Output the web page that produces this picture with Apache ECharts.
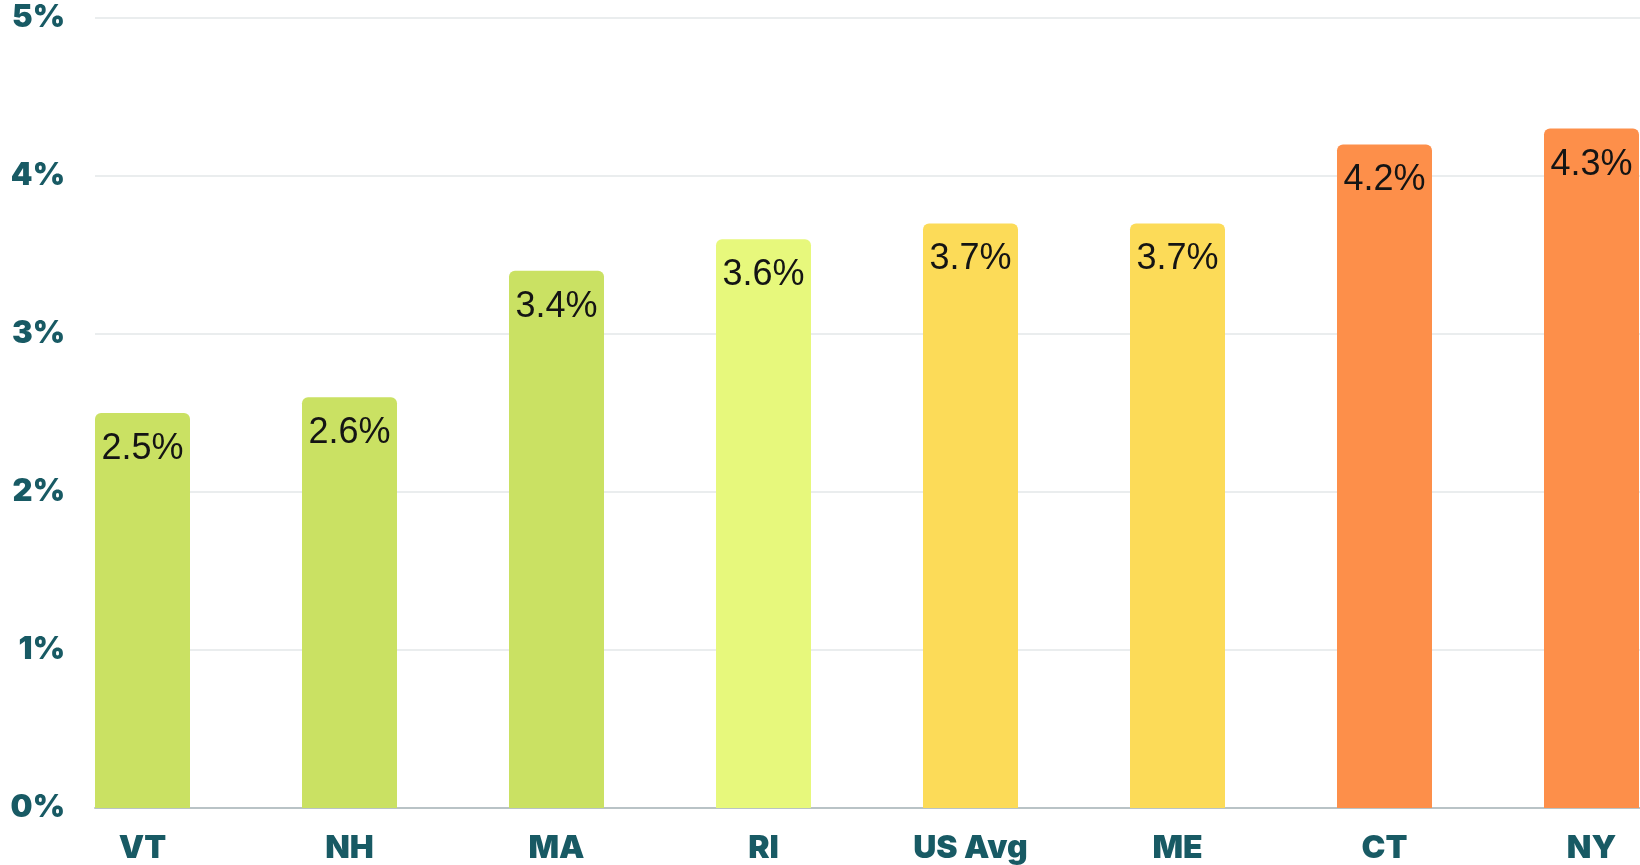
<!DOCTYPE html>
<html>
<head>
<meta charset="utf-8">
<script src="https://cdn.jsdelivr.net/npm/echarts@6/dist/echarts.min.js"></script>
<style>
  html, body { margin: 0; padding: 0; background: #fff; }
  #chart { width: 1640px; height: 865px; }
</style>
</head>
<body>
<div id="chart"></div>
<script>
const categories = ['VT', 'NH', 'MA', 'RI', 'US Avg', 'ME', 'CT', 'NY']
const values = [2.5, 2.6, 3.4, 3.6, 3.7, 3.7, 4.2, 4.3]
const barColors = ['#cae163', '#cae163', '#cae163', '#e7f87c', '#fcdb58', '#fcdb58', '#fd8f4a', '#fd8f4a']
const yTicks = [0, 1, 2, 3, 4, 5]

const teal = '#185a64'

const chart = echarts.init(document.getElementById('chart'))

const option = {
  animation: false,
  backgroundColor: '#fff',
  grid: [
    // frame for gridlines and y labels
    { left: 95, right: 0, top: 18, bottom: 57, outerBoundsMode: 'none' },
    // bars: 207px bands, first bar starts at the axis start, last one runs off the edge
    { left: 39, width: 1656, top: 18, bottom: 57, outerBoundsMode: 'none' }
  ],
  xAxis: [
    {
      gridIndex: 0, type: 'value', min: 0, max: 1,
      axisLine: { show: true, onZero: false, lineStyle: { color: '#b9c3c6', width: 2 } },
      axisTick: { show: false }, axisLabel: { show: false }, splitLine: { show: false }
    },
    {
      gridIndex: 1, type: 'category', data: categories,
      axisLine: { show: false }, axisTick: { show: false },
      axisLabel: {
        color: teal, fontFamily: 'Inter', fontWeight: 900, fontSize: 32, margin: 24, interval: 0
      }
    }
  ],
  yAxis: [
    {
      gridIndex: 0, type: 'value', min: yTicks[0], max: yTicks[yTicks.length - 1], interval: 1,
      axisLine: { show: false }, axisTick: { show: false },
      axisLabel: {
        color: teal, fontFamily: 'Inter', fontWeight: 900, fontSize: 31, margin: 30,
        formatter: v => v + '%'
      },
      splitLine: { lineStyle: { color: '#e3e7e8', width: 1.5 } }
    },
    {
      gridIndex: 1, type: 'value', min: 0, max: 5, show: false, splitLine: { show: false }
    }
  ],
  series: [{
    type: 'bar',
    xAxisIndex: 1,
    yAxisIndex: 1,
    barWidth: 95,
    data: values.map((v, i) => ({
      value: v,
      itemStyle: { color: barColors[i], borderRadius: [6, 6, 0, 0] },
      label: {
        show: true, position: 'insideTop', distance: 18,
        formatter: p => p.value + '%',
        color: '#141414', fontFamily: 'Liberation Sans', fontSize: 36
      }
    }))
  }]
}

chart.setOption(option)
</script>
</body>
</html>
